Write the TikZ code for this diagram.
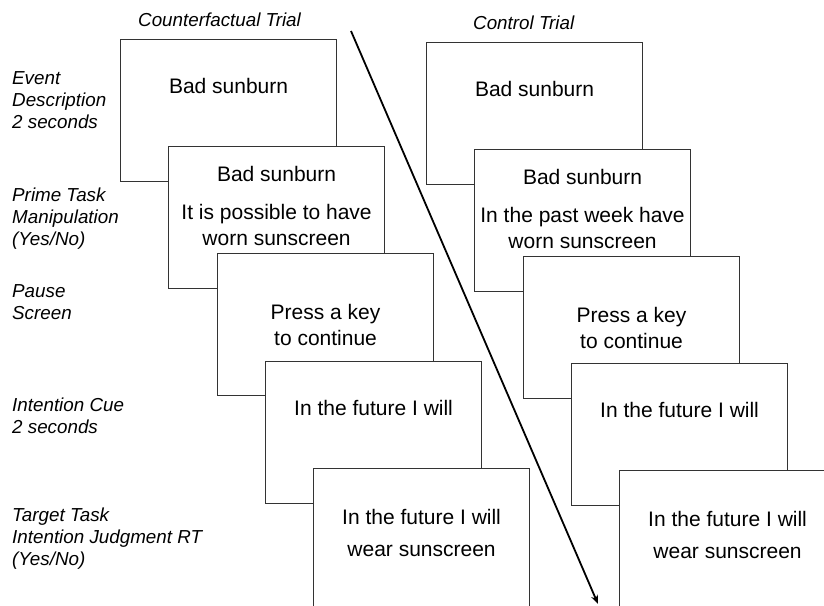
\documentclass[tikz,border=0pt]{standalone}
\usepackage{fontspec}
\setmainfont{Liberation Sans}
\usetikzlibrary{arrows.meta}
\begin{document}
\begin{tikzpicture}[x=1pt,y=-1pt,
  screen/.style={draw=black!80, line width=1.1pt, fill=white, rectangle, minimum width=216pt, minimum height=142pt, anchor=north west, inner sep=0pt},
  boxtxt/.style={font=\fontsize{21}{25}\selectfont, anchor=base, inner sep=0pt},
  lbl/.style={font=\fontsize{18.8}{22}\itshape, anchor=base west, inner sep=0pt},
  flow/.style={line width=1.8pt, -{Stealth[length=9pt,width=7pt]}}]
\useasboundingbox (0,0) rectangle (824,605);
\begin{scope}
\clip (0,0) rectangle (824,605);
% titles
\node[lbl] (tcf) at (138,27) {Counterfactual Trial};
\node[lbl] (tct) at (473,29) {Control Trial};
% left labels
\node[lbl] (a1) at (12,84) {Event};
\node[lbl] (a2) at (12,106) {Description};
\node[lbl] (a3) at (12,128) {2 seconds};
\node[lbl] (b1) at (12,201) {Prime Task};
\node[lbl] (b2) at (12,223) {Manipulation};
\node[lbl] (b3) at (12,245) {(Yes/No)};
\node[lbl] (c1) at (12,297) {Pause};
\node[lbl] (c2) at (12,319) {Screen};
\node[lbl] (d1) at (12,411) {Intention Cue};
\node[lbl] (d2) at (12,433) {2 seconds};
\node[lbl] (e1) at (12,521) {Target Task};
\node[lbl] (e2) at (12,543) {Intention Judgment RT};
\node[lbl] (e3) at (12,565) {(Yes/No)};
% counterfactual column
\node[screen] (L1) at (120,39) {};
\node[boxtxt] (L1a) at ([yshift=-54pt]L1.north) {Bad sunburn};
\node[screen] (L2) at (168,146) {};
\node[boxtxt] (L2a) at ([yshift=-35pt]L2.north) {Bad sunburn};
\node[boxtxt] (L2b) at ([yshift=-73pt]L2.north) {It is possible to have};
\node[boxtxt] (L2c) at ([yshift=-99pt]L2.north) {worn sunscreen};
\node[screen] (L3) at (217,253) {};
\node[boxtxt] (L3a) at ([yshift=-66pt]L3.north) {Press a key};
\node[boxtxt] (L3b) at ([yshift=-92pt]L3.north) {to continue};
\node[screen] (L4) at (265,361) {};
\node[boxtxt] (L4a) at ([yshift=-54pt]L4.north) {In the future I will};
\node[screen] (L5) at (313,468) {};
\node[boxtxt] (L5a) at ([yshift=-56pt]L5.north) {In the future I will};
\node[boxtxt] (L5b) at ([yshift=-88pt]L5.north) {wear sunscreen};
% control column
\node[screen] (R1) at (426,42) {};
\node[boxtxt] (R1a) at ([yshift=-54pt]R1.north) {Bad sunburn};
\node[screen] (R2) at (474,149) {};
\node[boxtxt] (R2a) at ([yshift=-35pt]R2.north) {Bad sunburn};
\node[boxtxt] (R2b) at ([yshift=-73pt]R2.north) {In the past week have};
\node[boxtxt] (R2c) at ([yshift=-99pt]R2.north) {worn sunscreen};
\node[screen] (R3) at (523,256) {};
\node[boxtxt] (R3a) at ([yshift=-66pt]R3.north) {Press a key};
\node[boxtxt] (R3b) at ([yshift=-92pt]R3.north) {to continue};
\node[screen] (R4) at (571,363) {};
\node[boxtxt] (R4a) at ([yshift=-54pt]R4.north) {In the future I will};
\node[screen] (R5) at (619,470) {};
\node[boxtxt] (R5a) at ([yshift=-56pt]R5.north) {In the future I will};
\node[boxtxt] (R5b) at ([yshift=-88pt]R5.north) {wear sunscreen};
% time arrow
\coordinate (ts) at (351,31);
\coordinate (te) at (598,604);
\draw[flow] (ts) -- (te);
\end{scope}
\end{tikzpicture}
\end{document}
